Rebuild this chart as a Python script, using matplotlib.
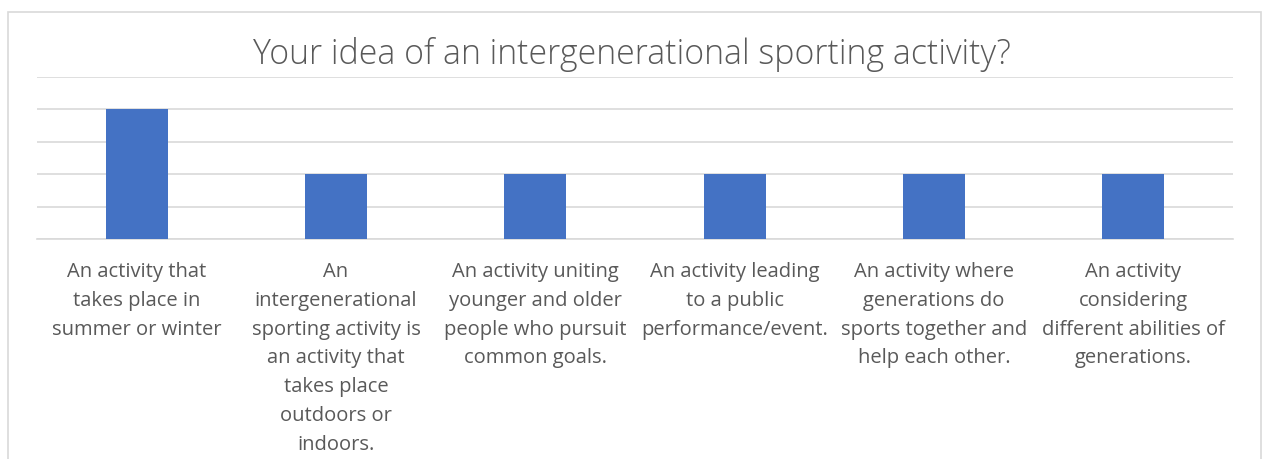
import matplotlib.pyplot as plt
from matplotlib.patches import Rectangle

plt.rcParams['font.family'] = ['Open Sans', 'DejaVu Sans']

labels = [
    "An activity that\ntakes place in\nsummer or winter",
    "An\nintergenerational\nsporting activity is\nan activity that\ntakes place\noutdoors or\nindoors.",
    "An activity uniting\nyounger and older\npeople who pursuit\ncommon goals.",
    "An activity leading\nto a public\nperformance/event.",
    "An activity where\ngenerations do\nsports together and\nhelp each other.",
    "An activity\nconsidering\ndifferent abilities of\ngenerations.",
]
values = [4, 2, 2, 2, 2, 2]

fig = plt.figure(figsize=(12.63, 4.59), dpi=100)
ax = fig.add_axes([37/1263, 1-239/459, (1233-37)/1263, (239-77)/459])

x = range(len(values))
ax.bar(x, values, width=0.31, color='#4472c4', zorder=3)
ax.set_xlim(-0.5, len(values)-0.5)
ax.set_ylim(0, 5)
ax.set_yticks(range(0, 6))
ax.set_yticklabels([])
ax.tick_params(axis='y', length=0)
ax.grid(axis='y', color='#d9d9d9', lw=1.2, zorder=0)
ax.set_xticks(list(x))
ax.set_xticklabels(labels, fontsize=14.5, color='#595959', linespacing=1.59, va='top')
ax.tick_params(axis='x', length=0, pad=16.5)
for s in ['top', 'right', 'left']:
    ax.spines[s].set_visible(False)
ax.spines['bottom'].set_color('#d9d9d9')
ax.spines['bottom'].set_linewidth(1.2)

fig.text(0.5, 1-55/459, "Your idea of an intergenerational sporting activity?",
         ha='center', va='center', fontsize=24.4, color='#595959', fontweight='light')

fig.patches.append(Rectangle((8/1263, -0.1), (1261-8)/1263, 1.1-12/459,
                             transform=fig.transFigure, fill=False,
                             edgecolor='#d9d9d9', lw=1.2))

fig.savefig('out.png', dpi=100)
